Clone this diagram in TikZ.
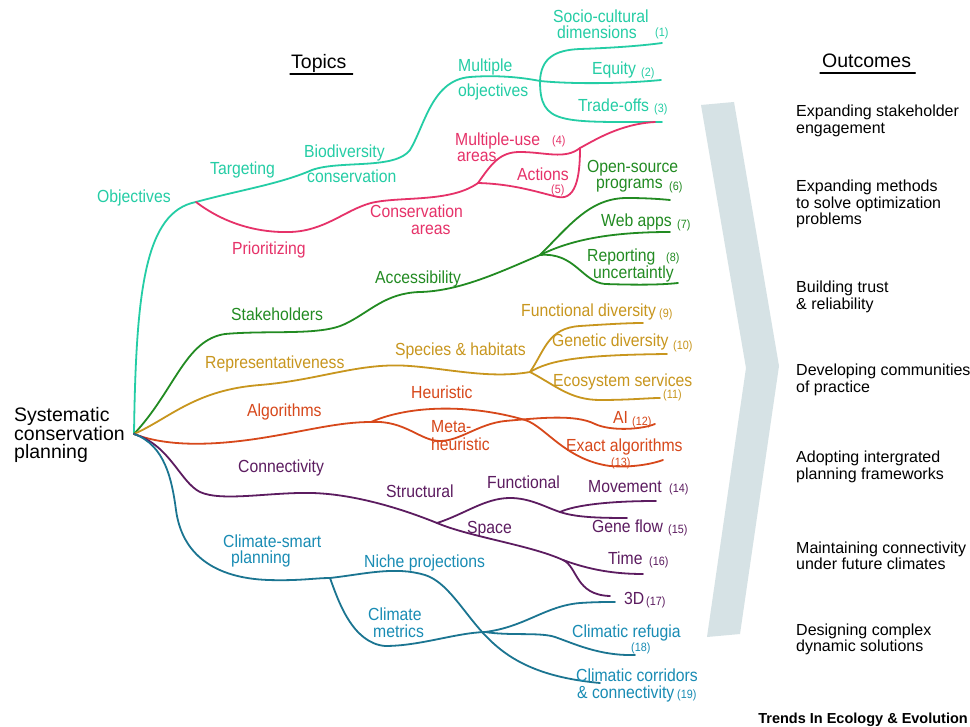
\documentclass[tikz,border=0pt]{standalone}
\usepackage{fontspec}
\setmainfont{Liberation Sans}
\newfontfamily\labfont[FakeStretch=0.9]{Liberation Sans}
\definecolor{cyanC}{RGB}{36,205,165}
\definecolor{pinkC}{RGB}{230,50,105}
\definecolor{greenC}{RGB}{34,139,34}
\definecolor{goldC}{RGB}{200,150,30}
\definecolor{orangeC}{RGB}{215,72,27}
\definecolor{purpleC}{RGB}{92,28,96}
\definecolor{tealC}{RGB}{27,117,145}
\definecolor{tealT}{RGB}{25,140,180}
\definecolor{chevC}{RGB}{214,226,229}
\begin{document}
\begin{tikzpicture}[x=1pt,y=-1pt, line cap=round, line join=round,
  br/.style={line width=1.8pt},
  lab/.style={inner sep=0pt, anchor=base west, font=\labfont\fontsize{17.5}{20}\selectfont},
  num/.style={inner sep=0pt, anchor=base west, font=\labfont\fontsize{12}{14}\selectfont},
  outc/.style={inner sep=0pt, anchor=base west, font=\fontsize{16}{18}\selectfont, text=black},
  ttl/.style={inner sep=0pt, anchor=base west, font=\fontsize{19.5}{22}\selectfont, text=black},
  rootlab/.style={inner sep=0pt, anchor=west, align=left, font=\fontsize{19.5}{18.5}\selectfont, text=black}]
\fill[white] (0,0) rectangle (970,727);
\useasboundingbox (0,0) rectangle (970,727);

% chevron
\fill[chevC] (701,105) -- (734,102) -- (779,366) -- (740,634) -- (707,637) -- (746,368) -- cycle;

% coordinates
\coordinate (root) at (134,434);
\coordinate (cObj) at (196,202);
\coordinate (cMul) at (540,81);
\coordinate (cE1) at (662,43);
\coordinate (cE2) at (661,80);
\coordinate (cE3) at (662,122);
\coordinate (pCon) at (478,183);
\coordinate (pJ) at (580,148);
\coordinate (pE) at (655,122);
\coordinate (gAcc) at (540,255);
\coordinate (gE6) at (670,200);
\coordinate (gE7) at (670,232);
\coordinate (gE8) at (678,283);
\coordinate (yBr) at (530,372);
\coordinate (yE9) at (643,323);
\coordinate (yE10) at (667,354);
\coordinate (yE11) at (660,398);
\coordinate (oBr) at (371,422);
\coordinate (oE12) at (655,424);
\coordinate (oE13) at (663,460);
\coordinate (uBr) at (437,523);
\coordinate (uF) at (560,512);
\coordinate (uT) at (563,560);
\coordinate (uE14) at (656,501);
\coordinate (uE15) at (627,518);
\coordinate (uE16) at (643,574);
\coordinate (uE17) at (610,596);
\coordinate (tBr) at (330,578);
\coordinate (tM) at (485,632);
\coordinate (tE3) at (615,602);
\coordinate (tE18) at (635,655);
\coordinate (tE19) at (600,683);

% cyan
\draw[br,cyanC] (root) .. controls (136,290) and (145,212) .. (cObj);
\draw[br,cyanC] (cObj) .. controls (240,190) and (280,184) .. (312,170)
  .. controls (340,160) and (395,170) .. (410,150)
  .. controls (425,125) and (432,80) .. (470,77)
  .. controls (495,75) and (520,77) .. (cMul);
\draw[br,cyanC] (cMul) .. controls (541,58) and (555,50) .. (580,49) .. controls (610,48) and (640,46) .. (cE1);
\draw[br,cyanC] (cMul) .. controls (570,84) and (620,84) .. (cE2);
\draw[br,cyanC] (cMul) .. controls (540,125) and (560,122) .. (cE3);

% pink
\draw[br,pinkC] (cObj) .. controls (222,222) and (255,233) .. (290,232)
  .. controls (325,231) and (345,210) .. (371,203)
  .. controls (400,196) and (450,203) .. (pCon);
\draw[br,pinkC] (pCon) .. controls (492,163) and (500,152) .. (520,152)
  .. controls (545,152) and (565,160) .. (pJ);
\draw[br,pinkC] (pJ) .. controls (595,140) and (620,124) .. (pE);
\draw[br,pinkC] (pCon) .. controls (515,184) and (540,193) .. (558,197)
  .. controls (578,201) and (580,170) .. (pJ);

% green
\draw[br,greenC] (root) .. controls (175,390) and (185,340) .. (225,334)
  .. controls (270,330) and (320,336) .. (345,324)
  .. controls (370,312) and (385,293) .. (420,292)
  .. controls (460,291) and (500,272) .. (gAcc);
\draw[br,greenC] (gAcc) .. controls (570,225) and (590,198) .. (627,198)
  .. controls (645,198) and (660,199) .. (gE6);
\draw[br,greenC] (gAcc) .. controls (565,243) and (600,232) .. (gE7);
\draw[br,greenC] (gAcc) .. controls (575,252) and (582,282) .. (605,284)
  .. controls (635,285) and (660,285) .. (gE8);

% gold
\draw[br,goldC] (root) .. controls (170,418) and (195,390) .. (260,385)
  .. controls (320,380) and (360,362) .. (410,366)
  .. controls (450,369) and (490,379) .. (yBr);
\draw[br,goldC] (yBr) .. controls (545,350) and (548,328) .. (580,326)
  .. controls (610,324) and (630,323) .. (yE9);
\draw[br,goldC] (yBr) .. controls (550,360) and (580,355) .. (yE10);
\draw[br,goldC] (yBr) .. controls (555,385) and (570,400) .. (600,400)
  .. controls (630,400) and (648,398) .. (yE11);

% orange
\draw[br,orangeC] (root) .. controls (170,448) and (220,445) .. (268,437)
  .. controls (310,430) and (340,422) .. (oBr);
\draw[br,orangeC] (oBr) .. controls (410,405) and (470,404) .. (525,420)
  .. controls (545,426) and (565,460) .. (610,466)
  .. controls (635,468) and (655,463) .. (oE13);
\draw[br,orangeC] (oBr) .. controls (405,420) and (420,441) .. (440,441)
  .. controls (460,441) and (478,424) .. (505,421)
  .. controls (540,418) and (575,414) .. (595,424)
  .. controls (610,431) and (640,430) .. (oE12);

% purple
\draw[br,purpleC] (root) .. controls (170,445) and (180,482) .. (200,492)
  .. controls (222,502) and (270,492) .. (312,493)
  .. controls (350,494) and (395,506) .. (uBr);
\draw[br,purpleC] (uBr) .. controls (465,514) and (485,498) .. (510,498)
  .. controls (530,498) and (545,507) .. (uF);
\draw[br,purpleC] (uF) .. controls (575,517) and (595,518) .. (uE15);
\draw[br,purpleC] (uF) .. controls (575,505) and (610,501) .. (uE14);
\draw[br,purpleC] (uBr) .. controls (470,537) and (530,545) .. (uT)
  .. controls (590,570) and (615,574) .. (uE16);
\draw[br,purpleC] (uT) .. controls (578,567) and (575,595) .. (uE17);

% teal
\draw[br,tealC] (root) .. controls (165,445) and (172,480) .. (176,510)
  .. controls (182,555) and (215,578) .. (268,580)
  .. controls (300,581) and (315,578) .. (tBr);
\draw[br,tealC] (tBr) .. controls (365,574) and (395,566) .. (425,575)
  .. controls (447,582) and (462,610) .. (483,633)
  .. controls (505,657) and (535,677) .. (tE19);
\draw[br,tealC] (tBr) .. controls (338,600) and (352,643) .. (385,646)
  .. controls (420,646) and (455,633) .. (tM);
\draw[br,tealC] (tM) .. controls (525,627) and (545,606) .. (580,603)
  .. controls (595,602) and (605,602) .. (tE3);
\draw[br,tealC] (tM) .. controls (510,636) and (540,632) .. (555,637)
  .. controls (575,644) and (600,656) .. (tE18);

% root label
\node[rootlab] (rootlabel) at (14,435) {Systematic\\conservation\\planning};

% titles
\node[ttl] (topics) at (291,69) {Topics};
\draw[line width=1.3pt] ([yshift=-5pt,xshift=-1pt]topics.base west) -- ([yshift=-5pt,xshift=6pt]topics.base east);
\node[ttl] (outcomes) at (822,68) {Outcomes};
\draw[line width=1.3pt] ([yshift=-5pt,xshift=-2pt]outcomes.base west) -- ([yshift=-5pt,xshift=4pt]outcomes.base east);

% cyan labels
\node[lab,text=cyanC] (l1) at (97,203) {Objectives};
\node[lab,text=cyanC] (l2) at (210,175) {Targeting};
\node[lab,text=cyanC] (l3) at (304,158) {Biodiversity};
\node[lab,text=cyanC] (l4) at (307,183) {conservation};
\node[lab,text=cyanC] (l5) at (458,72) {Multiple};
\node[lab,text=cyanC] (l6) at (458,97) {objectives};
\node[lab,text=cyanC] (l7) at (553,23) {Socio-cultural};
\node[lab,text=cyanC] (l8) at (557,39) {dimensions};
\node[num,text=cyanC] (n1) at (655,37) {(1)};
\node[lab,text=cyanC] (l9) at (592,75) {Equity};
\node[num,text=cyanC] (n2) at (641,77) {(2)};
\node[lab,text=cyanC] (l10) at (578,112) {Trade-offs};
\node[num,text=cyanC] (n3) at (654,113) {(3)};

% pink labels
\node[lab,text=pinkC] (l11) at (232,255) {Prioritizing};
\node[lab,text=pinkC] (l12) at (370,218) {Conservation};
\node[lab,text=pinkC] (l13) at (411,235) {areas};
\node[lab,text=pinkC] (l14) at (455,146) {Multiple-use};
\node[num,text=pinkC] (n4) at (552,145) {(4)};
\node[lab,text=pinkC] (l15) at (457,162) {areas};
\node[lab,text=pinkC] (l16) at (517,181) {Actions};
\node[num,text=pinkC] (n5) at (551,194) {(5)};

% green labels
\node[lab,text=greenC] (l17) at (231,321) {Stakeholders};
\node[lab,text=greenC] (l18) at (375,284) {Accessibility};
\node[lab,text=greenC] (l19) at (587,173) {Open-source};
\node[lab,text=greenC] (l20) at (596,189) {programs};
\node[num,text=greenC] (n6) at (669,191) {(6)};
\node[lab,text=greenC] (l21) at (601,227) {Web apps};
\node[num,text=greenC] (n7) at (677,229) {(7)};
\node[lab,text=greenC] (l22) at (587,262) {Reporting};
\node[num,text=greenC] (n8) at (666,262) {(8)};
\node[lab,text=greenC] (l23) at (593,279) {uncertaintly};

% gold labels
\node[lab,text=goldC] (l24) at (205,369) {Representativeness};
\node[lab,text=goldC] (l25) at (395,356) {Species \& habitats};
\node[lab,text=goldC] (l26) at (521,317) {Functional diversity};
\node[num,text=goldC] (n9) at (659,318) {(9)};
\node[lab,text=goldC] (l27) at (552,347) {Genetic diversity};
\node[num,text=goldC] (n10) at (673,350) {(10)};
\node[lab,text=goldC] (l28) at (553,387) {Ecosystem services};
\node[num,text=goldC] (n11) at (663,399) {(11)};

% orange labels
\node[lab,text=orangeC] (l29) at (247,417) {Algorithms};
\node[lab,text=orangeC] (l30) at (411,399) {Heuristic};
\node[lab,text=orangeC] (l31) at (431,433) {Meta-};
\node[lab,text=orangeC] (l32) at (431,450) {heuristic};
\node[lab,text=orangeC] (l33) at (613,424) {AI};
\node[num,text=orangeC] (n12) at (632,425) {(12)};
\node[lab,text=orangeC] (l34) at (566,452) {Exact algorithms};
\node[num,text=orangeC] (n13) at (611,467) {(13)};

% purple labels
\node[lab,text=purpleC] (l35) at (238,472) {Connectivity};
\node[lab,text=purpleC] (l36) at (386,497) {Structural};
\node[lab,text=purpleC] (l37) at (487,488) {Functional};
\node[lab,text=purpleC] (l38) at (467,533) {Space};
\node[lab,text=purpleC] (l39) at (588,492) {Movement};
\node[num,text=purpleC] (n14) at (669,493) {(14)};
\node[lab,text=purpleC] (l40) at (592,532) {Gene flow};
\node[num,text=purpleC] (n15) at (668,533) {(15)};
\node[lab,text=purpleC] (l41) at (608,564) {Time};
\node[num,text=purpleC] (n16) at (649,565) {(16)};
\node[lab,text=purpleC] (l42) at (624,604) {3D};
\node[num,text=purpleC] (n17) at (646,605) {(17)};

% teal labels
\node[lab,text=tealT] (l43) at (223,547) {Climate-smart};
\node[lab,text=tealT] (l44) at (231,563) {planning};
\node[lab,text=tealT] (l45) at (364,567) {Niche projections};
\node[lab,text=tealT] (l46) at (368,620) {Climate};
\node[lab,text=tealT] (l47) at (373,637) {metrics};
\node[lab,text=tealT] (l48) at (572,637) {Climatic refugia};
\node[num,text=tealT] (n18) at (631,651) {(18)};
\node[lab,text=tealT] (l49) at (576,681) {Climatic corridors};
\node[lab,text=tealT] (l50) at (577,698) {\& connectivity};
\node[num,text=tealT] (n19) at (677,698) {(19)};

% outcomes
\node[outc] (o1a) at (796,117) {Expanding stakeholder};
\node[outc] (o1b) at (796,133.5) {engagement};
\node[outc] (o2a) at (796,192) {Expanding methods};
\node[outc] (o2b) at (796,208.5) {to solve optimization};
\node[outc] (o2c) at (796,225) {problems};
\node[outc] (o3a) at (796,293) {Building trust};
\node[outc] (o3b) at (796,309.5) {\& reliability};
\node[outc] (o4a) at (796,376) {Developing communities};
\node[outc] (o4b) at (796,392.5) {of practice};
\node[outc] (o5a) at (796,463) {Adopting intergrated};
\node[outc] (o5b) at (796,479.5) {planning frameworks};
\node[outc] (o6a) at (796,553) {Maintaining connectivity};
\node[outc] (o6b) at (796,569.5) {under future climates};
\node[outc] (o7a) at (796,635) {Designing complex};
\node[outc] (o7b) at (796,651.5) {dynamic solutions};

% journal
\node[inner sep=0pt, anchor=base east, font=\fontsize{14.5}{16}\selectfont\bfseries] (journal) at (968,723) {Trends In Ecology \& Evolution};
\end{tikzpicture}
\end{document}
